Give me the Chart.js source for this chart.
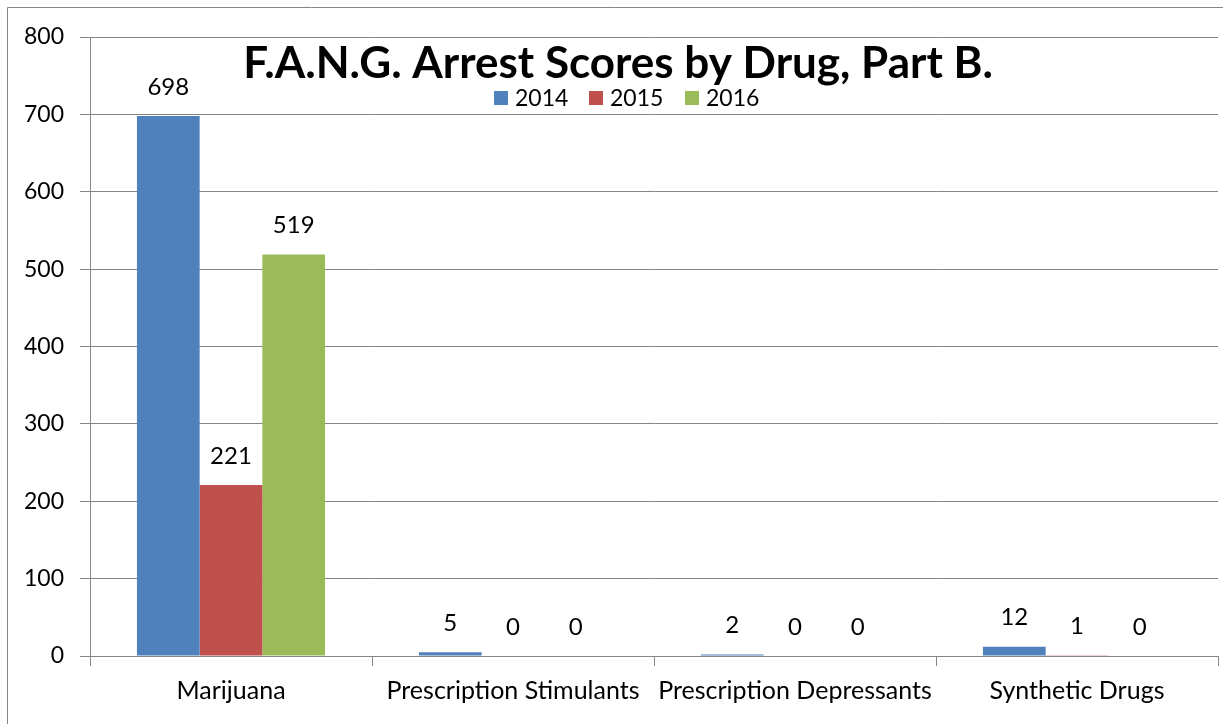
<!DOCTYPE html>
<html>
<head>
<meta charset="utf-8">
<script src="https://cdn.jsdelivr.net/npm/chart.js@4/dist/chart.umd.min.js"></script>
<style>
  html, body { margin: 0; padding: 0; background: #fff; }
  #wrap { position: relative; width: 1223px; height: 724px; }
  canvas { display: block; }
</style>
</head>
<body>
<div id="wrap"><canvas id="c" width="1223" height="724"></canvas></div>
<script>
const categories = ["Marijuana", "Prescription Stimulants", "Prescription Depressants", "Synthetic Drugs"];
const seriesNames = ["2014", "2015", "2016"];
const values2014 = [698, 5, 2, 12];
const values2015 = [221, 0, 0, 1];
const values2016 = [519, 0, 0, 0];
const seriesColors = ["#4F81BD", "#C0504D", "#9BBB59"];
const titleText = "F.A.N.G. Arrest Scores by Drug, Part B.";
const yMin = 0, yMax = 800, yStep = 100;

const FONT = "Lato, 'Open Sans', sans-serif";
const GRAY = "#868686";

const decorPlugin = {
  id: 'decor',
  beforeDraw(chart) {
    const ctx = chart.ctx;
    ctx.save();
    ctx.strokeStyle = GRAY;
    ctx.lineWidth = 1;
    ctx.beginPath();
    ctx.moveTo(7.5, 740);
    ctx.lineTo(7.5, 7.5);
    ctx.lineTo(1240, 7.5);
    ctx.stroke();
    ctx.restore();
  },
  afterDatasetsDraw(chart) {
    const ctx = chart.ctx;
    ctx.save();
    // data labels
    ctx.fillStyle = "#000";
    ctx.font = "24px " + FONT;
    ctx.textAlign = "center";
    ctx.textBaseline = "middle";
    chart.data.datasets.forEach((ds, di) => {
      const meta = chart.getDatasetMeta(di);
      meta.data.forEach((bar, i) => {
        ctx.fillText(String(ds.data[i]), bar.x, bar.y - 29);
      });
    });
    // title
    ctx.font = "bold 44px " + FONT;
    ctx.textAlign = "center";
    ctx.fillText(titleText, 618, 64);
    // legend
    ctx.font = "23px " + FONT;
    ctx.textAlign = "left";
    const starts = [494, 589, 685];
    chart.data.datasets.forEach((ds, di) => {
      const x = starts[di];
      ctx.fillStyle = ds.backgroundColor;
      ctx.fillRect(x, 91, 14, 14);
      ctx.fillStyle = "#000";
      ctx.fillText(ds.label, x + 21, 99);
    });
    ctx.restore();
  }
};

new Chart(document.getElementById('c'), {
  type: 'bar',
  data: {
    labels: categories,
    datasets: [
      { label: seriesNames[0], data: values2014, backgroundColor: seriesColors[0] },
      { label: seriesNames[1], data: values2015, backgroundColor: seriesColors[1] },
      { label: seriesNames[2], data: values2016, backgroundColor: seriesColors[2] }
    ]
  },
  options: {
    responsive: false,
    animation: false,
    devicePixelRatio: 1,
    layout: { padding: { left: 0, right: 5, top: 37, bottom: 8 } },
    datasets: { bar: { categoryPercentage: 0.667, barPercentage: 1.0, borderWidth: 0 } },
    plugins: { legend: { display: false }, title: { display: false }, tooltip: { enabled: false } },
    scales: {
      x: {
        grid: { offset: true, drawOnChartArea: false, drawTicks: true, tickLength: 10, color: GRAY },
        border: { color: GRAY, width: 1 },
        ticks: { color: "#000", font: { family: FONT, size: 25 }, padding: 10, maxRotation: 0, autoSkip: false }
      },
      y: {
        min: yMin, max: yMax,
        afterFit(scale) { scale.width = 90; },
        grid: { color: GRAY, tickLength: 10, drawTicks: true },
        border: { color: GRAY, width: 1 },
        ticks: { stepSize: yStep, color: "#000", font: { family: FONT, size: 23 }, padding: 16 }
      }
    }
  },
  plugins: [decorPlugin]
});
</script>
</body>
</html>
